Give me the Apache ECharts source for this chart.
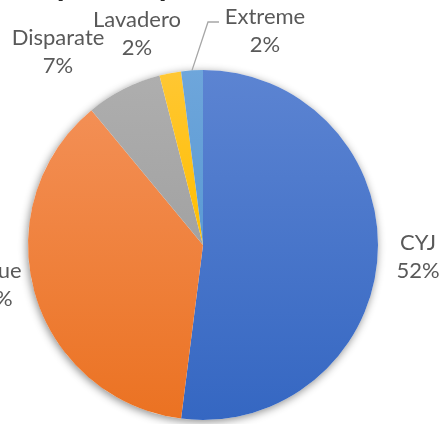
<!DOCTYPE html>
<html>
<head>
<meta charset="utf-8">
<script src="https://cdn.jsdelivr.net/npm/echarts@6/dist/echarts.min.js"></script>
<style>
  html, body { margin: 0; padding: 0; background: #ffffff; }
  #chart { width: 439px; height: 424px; }
</style>
</head>
<body>
<div id="chart"></div>
<script>
// Company shares
const companies = ['CYJ', 'Clique', 'Disparate', 'Lavadero', 'Extreme'];
const shares = [52, 37, 7, 2, 2];

// Slice colours: [top, bottom] of a soft vertical gradient
const sliceColors = [
  ['#5C84D2', '#3567C2'],
  ['#F38F55', '#EB7222'],
  ['#AEAEAE', '#A2A2A2'],
  ['#FFC733', '#FFBE00'],
  ['#6EA6DB', '#5A9AD4']
];

// Label anchor points (label centres) around the pie
const labelSpots = [
  [418, 257],
  [-9, 285],
  [58, 52],
  [137, 34],
  [265, 31]
];

const chart = echarts.init(document.getElementById('chart'), null, { renderer: 'canvas' });

const grad = (c) => new echarts.graphic.LinearGradient(0, 0, 0, 1, [
  { offset: 0, color: c[0] },
  { offset: 1, color: c[1] }
]);

const pieData = companies.map((name, i) => ({
  name: name,
  value: shares[i],
  itemStyle: { color: grad(sliceColors[i]) },
  labelLine: { show: name === 'Extreme' }
}));

chart.setOption({
  animation: false,
  title: {
    text: 'Participación por marca',
    left: -40,
    top: -35,
    textStyle: { fontFamily: 'Lato', fontWeight: 'bold', fontSize: 32, color: '#262626' }
  },
  series: [
    {
      // soft drop shadow under the whole disc
      type: 'pie',
      silent: true,
      center: [203, 245],
      radius: [0, 175],
      label: { show: false },
      labelLine: { show: false },
      itemStyle: {
        color: '#ffffff',
        shadowBlur: 8,
        shadowColor: 'rgba(0,0,0,0.45)',
        shadowOffsetX: -1,
        shadowOffsetY: 2
      },
      data: [{ name: '', value: 1 }],
      z: 1
    },
    {
      type: 'pie',
      center: [203, 245],
      radius: [0, 175],
      startAngle: 90,
      clockwise: true,
      avoidLabelOverlap: false,
      itemStyle: { borderWidth: 0 },
      label: {
        show: true,
        position: 'outside',
        formatter: '{b}\n{d}%',
        fontFamily: 'Lato',
        fontSize: 22,
        lineHeight: 28,
        color: '#595959',
        align: 'center'
      },
      labelLine: {
        show: false,
        length: 20,
        length2: 10,
        lineStyle: { color: '#A6A6A6', width: 1.3 }
      },
      labelLayout: function (params) {
        const p = labelSpots[params.dataIndex];
        const out = {
          x: p[0],
          y: p[1],
          align: 'center',
          verticalAlign: 'middle'
        };
        if (params.dataIndex === 4) {
          const lp = params.labelLinePoints;
          if (lp && lp.length) {
            out.labelLinePoints = [lp[0], [208, 22], [219, 22]];
          }
        }
        return out;
      },
      data: pieData,
      z: 2
    }
  ]
});
</script>
</body>
</html>
